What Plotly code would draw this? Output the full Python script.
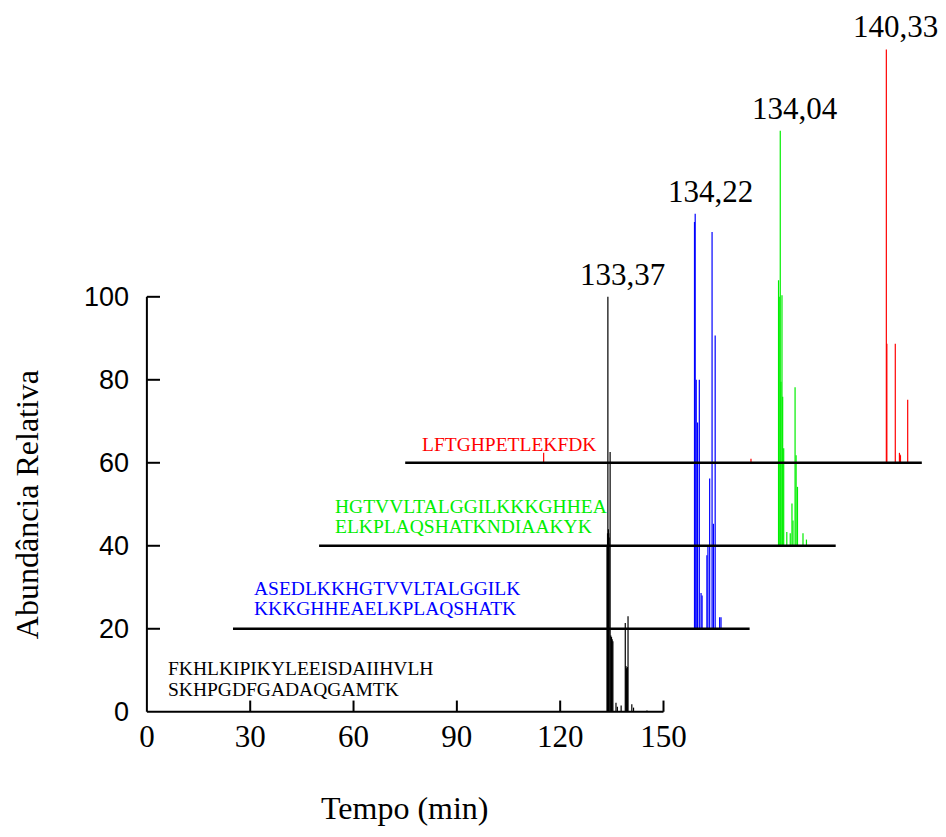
import plotly.graph_objects as go

# ---------------- data ----------------
x_offsets = [0, 25, 50, 75]          # time offset of each stacked run
y_offsets = [0, 20, 40, 60]          # abundance offset of each stacked run
run_length = 150
trace_colors = ["#000000", "#0000ff", "#00ee00", "#ff0000"]

black_t = [133.6, 133.75, 133.85, 134.0, 134.1, 134.2, 134.5, 134.7, 134.9, 135.1, 135.3,
           136.2, 136.6, 137.7, 138.9, 139.1, 139.3, 139.5, 139.7, 140.8, 141.3, 145.2]
black_h = [40, 43, 100, 44, 43, 42, 62.6, 18.4, 18, 17.5, 17,
           2.2, 1.2, 1.5, 21.4, 11, 10.5, 10.8, 23, 1.8, 1, 0.3]

blue_t = [134.0, 134.2, 134.5, 134.9, 135.4, 135.9, 136.2,
          137.6, 137.9, 138.4, 139.1, 139.5, 140.0, 141.3, 141.7]
blue_h = [98, 100, 60, 49.7, 60, 8.6, 8,
          17.7, 20, 36.2, 95.6, 25.3, 70.7, 2.8, 2.8]

green_t = [133.4, 133.6, 133.9, 134.1, 134.4, 134.6, 134.9, 135.8, 136.8,
           137.3, 137.6, 138.2, 138.5, 138.9, 140.5, 141.5]
green_h = [64, 60, 100, 39.5, 60.4, 35.9, 23.5, 3.3, 3,
           10.2, 6.1, 38.2, 21.8, 14.2, 3, 1.5]

red_t = [40.2, 100.4, 139.7, 139.85, 142.3, 143.5, 143.65, 143.8, 145.9]
red_h = [2.4, 1.0, 99.6, 28.7, 28.7, 2.4, 2.0, 1.8, 15.2]

peak_labels = ["133,37", "134,22", "134,04", "140,33"]
sequences = [
    ["FKHLKIPIKYLEEISDAIIHVLH", "SKHPGDFGADAQGAMTK"],
    ["ASEDLKKHGTVVLTALGGILK", "KKKGHHEAELKPLAQSHATK"],
    ["HGTVVLTALGGILKKKGHHEA", "ELKPLAQSHATKNDIAAKYK"],
    ["LFTGHPETLEKFDK"],
]
x_ticks = [0, 30, 60, 90, 120, 150]
y_ticks = [0, 20, 40, 60, 80, 100]

runs_t = [black_t, blue_t, green_t, red_t]
runs_h = [black_h, blue_h, green_h, red_h]

# ---------------- layout constants ----------------
SERIF = "Liberation Serif, Times New Roman, serif"
SANS = "Liberation Sans, Arial, sans-serif"
seq_left = [5.5, 30.5, 53.9, 79.4]     # left edge of sequence text (time units)
seq_line_rise = [[10.5, 5.4], [9.7, 4.9], [9.5, 4.7], [4.5]]
label_xshift = [15, 15, 15, 9]

fig = go.Figure()

# axis frame (drawn from tick arrays)
fx, fy = [0, run_length, None, 0, 0, None], [0, 0, None, 0, y_ticks[-1], None]
for v in x_ticks[1:]:
    fx += [v, v, None]
    fy += [0, 2.7, None]
for v in y_ticks[1:]:
    fx += [0, 3.8, None]
    fy += [v, v, None]
fig.add_trace(go.Scatter(x=fx, y=fy, mode="lines", line=dict(color="black", width=2),
                         hoverinfo="skip", showlegend=False))

for i in range(4):
    xo, yo = x_offsets[i], y_offsets[i]
    xs, ys = [], []
    for t, h in zip(runs_t[i], runs_h[i]):
        xs += [xo + t, xo + t, None]
        ys += [yo, yo + h, None]
    fig.add_trace(go.Scatter(x=xs, y=ys, mode="lines",
                             line=dict(color=trace_colors[i], width=1.2),
                             showlegend=False))
    # baseline of the stacked run
    if i > 0:
        fig.add_trace(go.Scatter(x=[xo, xo + run_length], y=[yo, yo], mode="lines",
                                 line=dict(color="black", width=2.4),
                                 hoverinfo="skip", showlegend=False))

annotations = []
for i in range(4):
    xo, yo = x_offsets[i], y_offsets[i]
    k = max(range(len(runs_h[i])), key=lambda j: runs_h[i][j])
    annotations.append(dict(x=xo + runs_t[i][k], y=yo + runs_h[i][k], xref="x", yref="y",
                            text=peak_labels[i], showarrow=False, xanchor="center",
                            yanchor="bottom", xshift=label_xshift[i], yshift=3,
                            font=dict(family=SERIF, size=31, color="black")))
    for line, rise in zip(sequences[i], seq_line_rise[i]):
        annotations.append(dict(x=seq_left[i], y=yo + rise, xref="x", yref="y",
                                text=line, showarrow=False, xanchor="left",
                                yanchor="middle",
                                font=dict(family=SERIF, size=19.5, color=trace_colors[i])))

annotations.append(dict(x=0, y=50, xref="x", yref="y", text="Abundância Relativa",
                        textangle=-90, showarrow=False, xshift=-120,
                        font=dict(family=SERIF, size=32, color="black")))
annotations.append(dict(x=75, y=0, xref="x", yref="y", text="Tempo (min)",
                        showarrow=False, yshift=-96,
                        font=dict(family=SERIF, size=32, color="black")))

# page body has an 8px margin: figure sized/margined to fit inside it
fig.update_layout(
    width=930, height=821,
    margin=dict(l=132, r=0, t=0, b=116),
    paper_bgcolor="white", plot_bgcolor="white",
    annotations=annotations,
    xaxis=dict(range=[-2, 229.7], showgrid=False, zeroline=False, showline=False,
               tickvals=x_ticks, ticktext=[str(v) for v in x_ticks], ticks="",
               tickfont=dict(family=SERIF, size=31, color="black"),
               ticklabelstandoff=2, automargin=False),
    yaxis=dict(range=[-0.3, 169.6], showgrid=False, zeroline=False, showline=False,
               tickvals=y_ticks, ticktext=[str(v) for v in y_ticks], ticks="",
               tickfont=dict(family=SANS, size=27, color="black"),
               ticklabelstandoff=10, automargin=False),
)

fig.write_html("out.html")
